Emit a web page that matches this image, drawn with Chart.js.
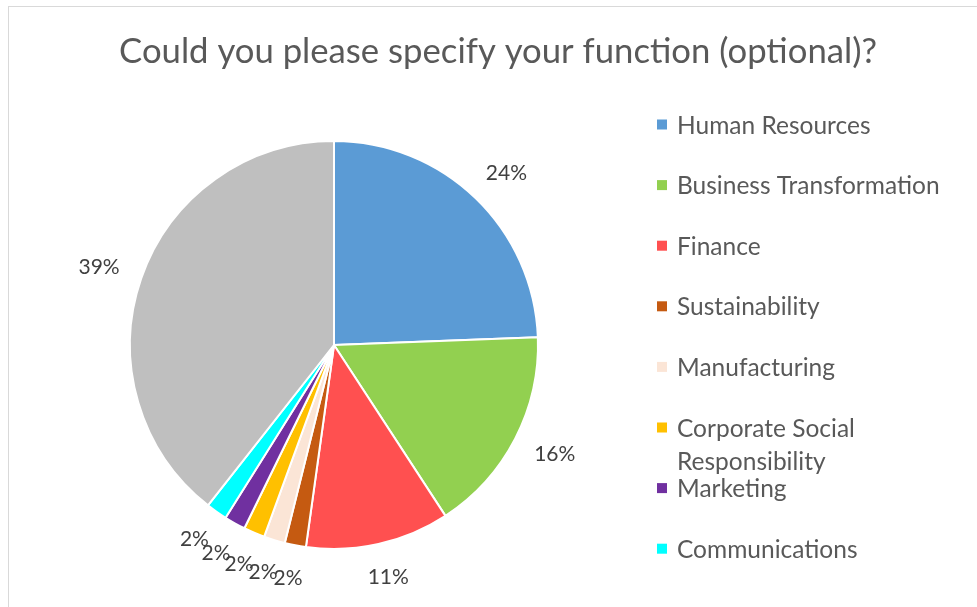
<!DOCTYPE html>
<html>
<head>
<meta charset="utf-8">
<script src="https://cdn.jsdelivr.net/npm/chart.js@4.4.1/dist/chart.umd.min.js"></script>
<style>
  html, body { margin: 0; padding: 0; background: #fff; overflow: hidden; }
  #box { position: absolute; left: 8px; top: 6px; width: 968px; height: 600px;
         border-left: 1px solid #d9d9d9; border-top: 1px solid #d9d9d9; }
</style>
</head>
<body>
<div id="box"><canvas id="pie" width="968" height="600"></canvas></div>
<script>
var fontFamily = 'Lato, "Open Sans", sans-serif';

var chartTitle = 'Could you please specify your function (optional)?';
var labels = ['Human Resources', 'Business Transformation', 'Finance', 'Sustainability',
              'Manufacturing', 'Corporate Social Responsibility', 'Marketing', 'Communications', 'Other'];
// shares in percent
var shares = [24.4, 16.4, 11.4, 1.68, 1.68, 1.68, 1.68, 1.68, 39.4];
var colors = ['#5b9bd5', '#92d050', '#ff5050', '#c55a11', '#fbe5d6', '#ffc000', '#7030a0', '#00ffff', '#bfbfbf'];
var legendCount = 8; // grey slice has no legend entry in the original

var total = shares.reduce(function (a, b) { return a + b; }, 0);

// title, legend and outside percentage labels
var decorations = {
    id: 'decorations',
    afterDraw: function (chart) {
        var ctx = chart.ctx;
        ctx.save();

        // title
        ctx.fillStyle = '#595959';
        ctx.font = '34.7px ' + fontFamily;
        ctx.textAlign = 'center';
        ctx.textBaseline = 'alphabetic';
        ctx.fillText(chartTitle, chart.width / 2 + 5, 56);

        // legend
        ctx.font = '24.5px ' + fontFamily;
        ctx.textAlign = 'left';
        var maxW = 285;
        for (var i = 0; i < legendCount; i++) {
            var cy = 117.5 + i * 60.6;
            ctx.fillStyle = colors[i];
            ctx.fillRect(648, cy - 5, 10, 10);
            ctx.fillStyle = '#595959';
            var words = labels[i].split(' '), line = '', lines = [];
            words.forEach(function (w) {
                var test = line ? line + ' ' + w : w;
                if (ctx.measureText(test).width > maxW && line) { lines.push(line); line = w; }
                else line = test;
            });
            lines.push(line);
            lines.forEach(function (l, k) {
                ctx.fillText(l, 668, cy + 9 + k * 33);
            });
        }

        // percentage labels
        ctx.fillStyle = '#404040';
        ctx.font = '21px ' + fontFamily;
        ctx.textAlign = 'center';
        ctx.textBaseline = 'middle';
        var meta = chart.getDatasetMeta(0);
        meta.data.forEach(function (arc, i) {
            var p = arc.getProps(['x', 'y', 'startAngle', 'endAngle', 'outerRadius'], true);
            var mid = (p.startAngle + p.endAngle) / 2;
            var c = Math.cos(mid), s = Math.sin(mid);
            var text = Math.round(shares[i] / total * 100) + '%';
            var w = ctx.measureText(text).width, h = 20;
            var d = p.outerRadius + 24;
            ctx.fillText(text, p.x + d * c + w / 2 * c, p.y + d * s + h / 2 * s);
        });
        ctx.restore();
    }
};

new Chart(document.getElementById('pie'), {
    type: 'pie',
    data: {
        labels: labels,
        datasets: [{
            data: shares,
            backgroundColor: colors,
            borderColor: '#ffffff',
            borderWidth: 2
        }]
    },
    options: {
        responsive: false,
        animation: false,
        layout: { padding: { left: 120, right: 438, top: 133, bottom: 57 } },
        plugins: {
            legend: { display: false },
            title: { display: false },
            tooltip: { enabled: false }
        }
    },
    plugins: [decorations]
});
</script>
</body>
</html>
